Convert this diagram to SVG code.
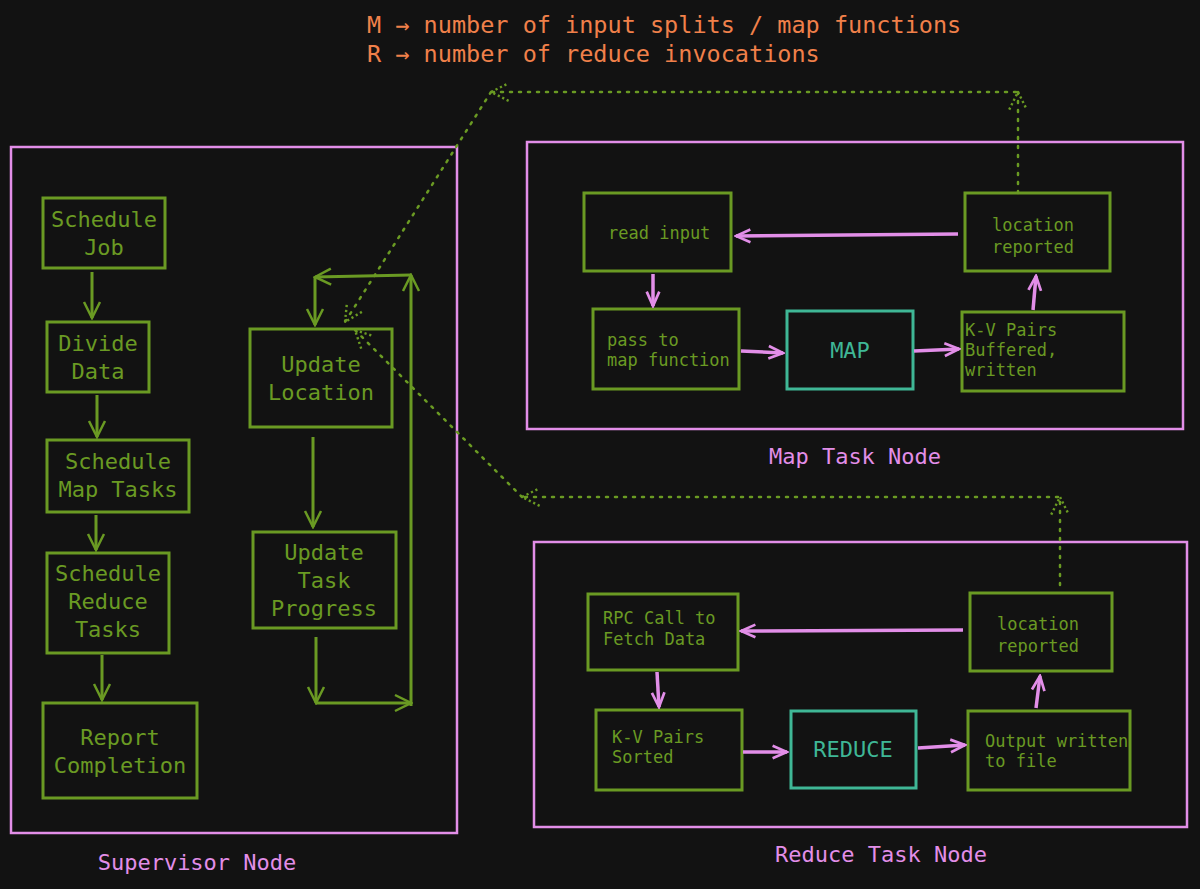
<svg xmlns="http://www.w3.org/2000/svg" width="1200" height="889" viewBox="0 0 1200 889">
<defs>
<marker id="ga" viewBox="0 0 20 20" refX="18" refY="10" markerWidth="20" markerHeight="20" markerUnits="userSpaceOnUse" orient="auto"><path d="M2,2 L18,10 L2,18" fill="none" stroke="#6a9a23" stroke-width="2.5"/></marker>
<marker id="pa" viewBox="0 0 20 20" refX="18" refY="10" markerWidth="18" markerHeight="18" markerUnits="userSpaceOnUse" orient="auto"><path d="M2,3 L18,10 L2,17" fill="none" stroke="#e28ee8" stroke-width="3"/></marker>
<marker id="da" viewBox="0 0 20 20" refX="18" refY="10" markerWidth="22" markerHeight="22" markerUnits="userSpaceOnUse" orient="auto"><path d="M2,2 L18,10 L2,18" fill="none" stroke="#6a9a23" stroke-width="2.2" stroke-dasharray="2 2.5"/></marker>
</defs>
<style>
.n{fill:none;stroke:#6a9a23;stroke-width:3}
.t{fill:#6a9a23;font-family:"DejaVu Sans Mono",monospace;font-size:22px;text-anchor:middle}
.s{fill:#6a9a23;font-family:"DejaVu Sans Mono",monospace;font-size:17px}
.c{fill:none;stroke:#e28ee8;stroke-width:2.5}
.cl{fill:#e28ee8;font-family:"DejaVu Sans Mono",monospace;font-size:22px;text-anchor:middle}
.g{fill:none;stroke:#6a9a23;stroke-width:3}
.p{fill:none;stroke:#e28ee8;stroke-width:3.5}
.d{fill:none;stroke:#6a9a23;stroke-width:2.5;stroke-dasharray:2 7;stroke-linecap:round}
.k{fill:none;stroke:#3fb796;stroke-width:3}
.kt{fill:#3fb796;font-family:"DejaVu Sans Mono",monospace;font-size:22px;text-anchor:middle}
</style>
<rect width="1200" height="889" fill="#121212"/>
<text x="367" y="33" fill="#f0804a" font-family="DejaVu Sans Mono,monospace" font-size="23.5">M → number of input splits / map functions</text>
<text x="367" y="62" fill="#f0804a" font-family="DejaVu Sans Mono,monospace" font-size="23.5">R → number of reduce invocations</text>

<g id="supervisor"><rect class="c" x="11" y="147" width="446" height="686"/><text class="cl" x="197" y="870">Supervisor Node</text></g>
<g id="maptask"><rect class="c" x="527" y="142" width="656" height="287"/><text class="cl" x="855" y="464">Map Task Node</text></g>
<g id="reducetask"><rect class="c" x="534" y="542" width="653" height="285"/><text class="cl" x="881" y="862">Reduce Task Node</text></g>

<g id="schedjob"><rect class="n" x="43" y="198" width="122" height="70"/><text class="t" x="104" y="227">Schedule</text><text class="t" x="104" y="255">Job</text></g>
<g id="divide"><rect class="n" x="47" y="322" width="102" height="70"/><text class="t" x="98" y="351">Divide</text><text class="t" x="98" y="379">Data</text></g>
<g id="schedmap"><rect class="n" x="47" y="440" width="142" height="72"/><text class="t" x="118" y="469">Schedule</text><text class="t" x="118" y="497">Map Tasks</text></g>
<g id="schedreduce"><rect class="n" x="47" y="553" width="122" height="100"/><text class="t" x="108" y="581">Schedule</text><text class="t" x="108" y="609">Reduce</text><text class="t" x="108" y="637">Tasks</text></g>
<g id="report"><rect class="n" x="43" y="703" width="154" height="95"/><text class="t" x="120" y="745">Report</text><text class="t" x="120" y="773">Completion</text></g>
<g id="updloc"><rect class="n" x="250" y="329" width="142" height="98"/><text class="t" x="321" y="372">Update</text><text class="t" x="321" y="400">Location</text></g>
<g id="updprog"><rect class="n" x="253" y="532" width="143" height="96"/><text class="t" x="324" y="560">Update</text><text class="t" x="324" y="588">Task</text><text class="t" x="324" y="616">Progress</text></g>

<g id="readinput"><rect class="n" x="584" y="193" width="147" height="78"/><text class="s" x="608" y="239">read input</text></g>
<g id="locmap"><rect class="n" x="965" y="193" width="145" height="78"/><text class="s" x="992" y="231">location</text><text class="s" x="992" y="253">reported</text></g>
<g id="passmap"><rect class="n" x="593" y="309" width="146" height="80"/><text class="s" x="607" y="346">pass to</text><text class="s" x="607" y="366">map function</text></g>
<g id="map"><rect class="k" x="787" y="311" width="126" height="78"/><text class="kt" x="850" y="358">MAP</text></g>
<g id="kvbuf"><rect class="n" x="962" y="312" width="162" height="79"/><text class="s" x="965" y="336">K-V Pairs</text><text class="s" x="965" y="356">Buffered,</text><text class="s" x="965" y="376">written</text></g>

<g id="rpc"><rect class="n" x="588" y="594" width="150" height="76"/><text class="s" x="603" y="624">RPC Call to</text><text class="s" x="603" y="645">Fetch Data</text></g>
<g id="locred"><rect class="n" x="970" y="593" width="142" height="78"/><text class="s" x="997" y="630">location</text><text class="s" x="997" y="652">reported</text></g>
<g id="kvsort"><rect class="n" x="596" y="710" width="146" height="80"/><text class="s" x="612" y="743">K-V Pairs</text><text class="s" x="612" y="763">Sorted</text></g>
<g id="reduce"><rect class="k" x="791" y="711" width="125" height="77"/><text class="kt" x="853" y="757">REDUCE</text></g>
<g id="output"><rect class="n" x="968" y="711" width="162" height="79"/><text class="s" x="985" y="747">Output written</text><text class="s" x="985" y="767">to file</text></g>

<g id="connectors">
<path class="g" marker-end="url(#ga)" d="M92,272 L92,318"/>
<path class="g" marker-end="url(#ga)" d="M97,395 L97,437"/>
<path class="g" marker-end="url(#ga)" d="M96,515 L96,550"/>
<path class="g" marker-end="url(#ga)" d="M102,655 L102,700"/>
<path class="g" marker-end="url(#ga)" d="M313,437 L313,527"/>
<path class="g" marker-end="url(#ga)" d="M316,637 L316,703"/>
<path class="g" marker-end="url(#ga)" d="M316,703 L411,703"/>
<path class="g" marker-end="url(#ga)" d="M411,706 L411,275"/>
<path class="g" marker-end="url(#ga)" d="M411,275 L315,277"/>
<path class="g" marker-end="url(#ga)" d="M315,277 L315,325"/>
<path class="p" marker-end="url(#pa)" d="M958,234 L736,236"/>
<path class="p" marker-end="url(#pa)" d="M653,274 L653,306"/>
<path class="p" marker-end="url(#pa)" d="M741,351 L783,353"/>
<path class="p" marker-end="url(#pa)" d="M914,351 L959,349"/>
<path class="p" marker-end="url(#pa)" d="M1033,310 L1036,276"/>
<path class="p" marker-end="url(#pa)" d="M963,630 L741,631"/>
<path class="p" marker-end="url(#pa)" d="M657,672 L659,707"/>
<path class="p" marker-end="url(#pa)" d="M743,752 L787,752"/>
<path class="p" marker-end="url(#pa)" d="M918,748 L965,745"/>
<path class="p" marker-end="url(#pa)" d="M1036,708 L1040,676"/>
<path class="d" marker-end="url(#da)" d="M1018,193 L1018,92"/>
<path class="d" marker-end="url(#da)" d="M1016,92 L491,92"/>
<path class="d" marker-end="url(#da)" d="M491,92 L345,322"/>
<path class="d" marker-end="url(#da)" d="M1060,585 L1060,497"/>
<path class="d" marker-end="url(#da)" d="M1058,497 L522,497"/>
<path class="d" marker-end="url(#da)" d="M522,497 L355,330"/>
</g>
</svg>
